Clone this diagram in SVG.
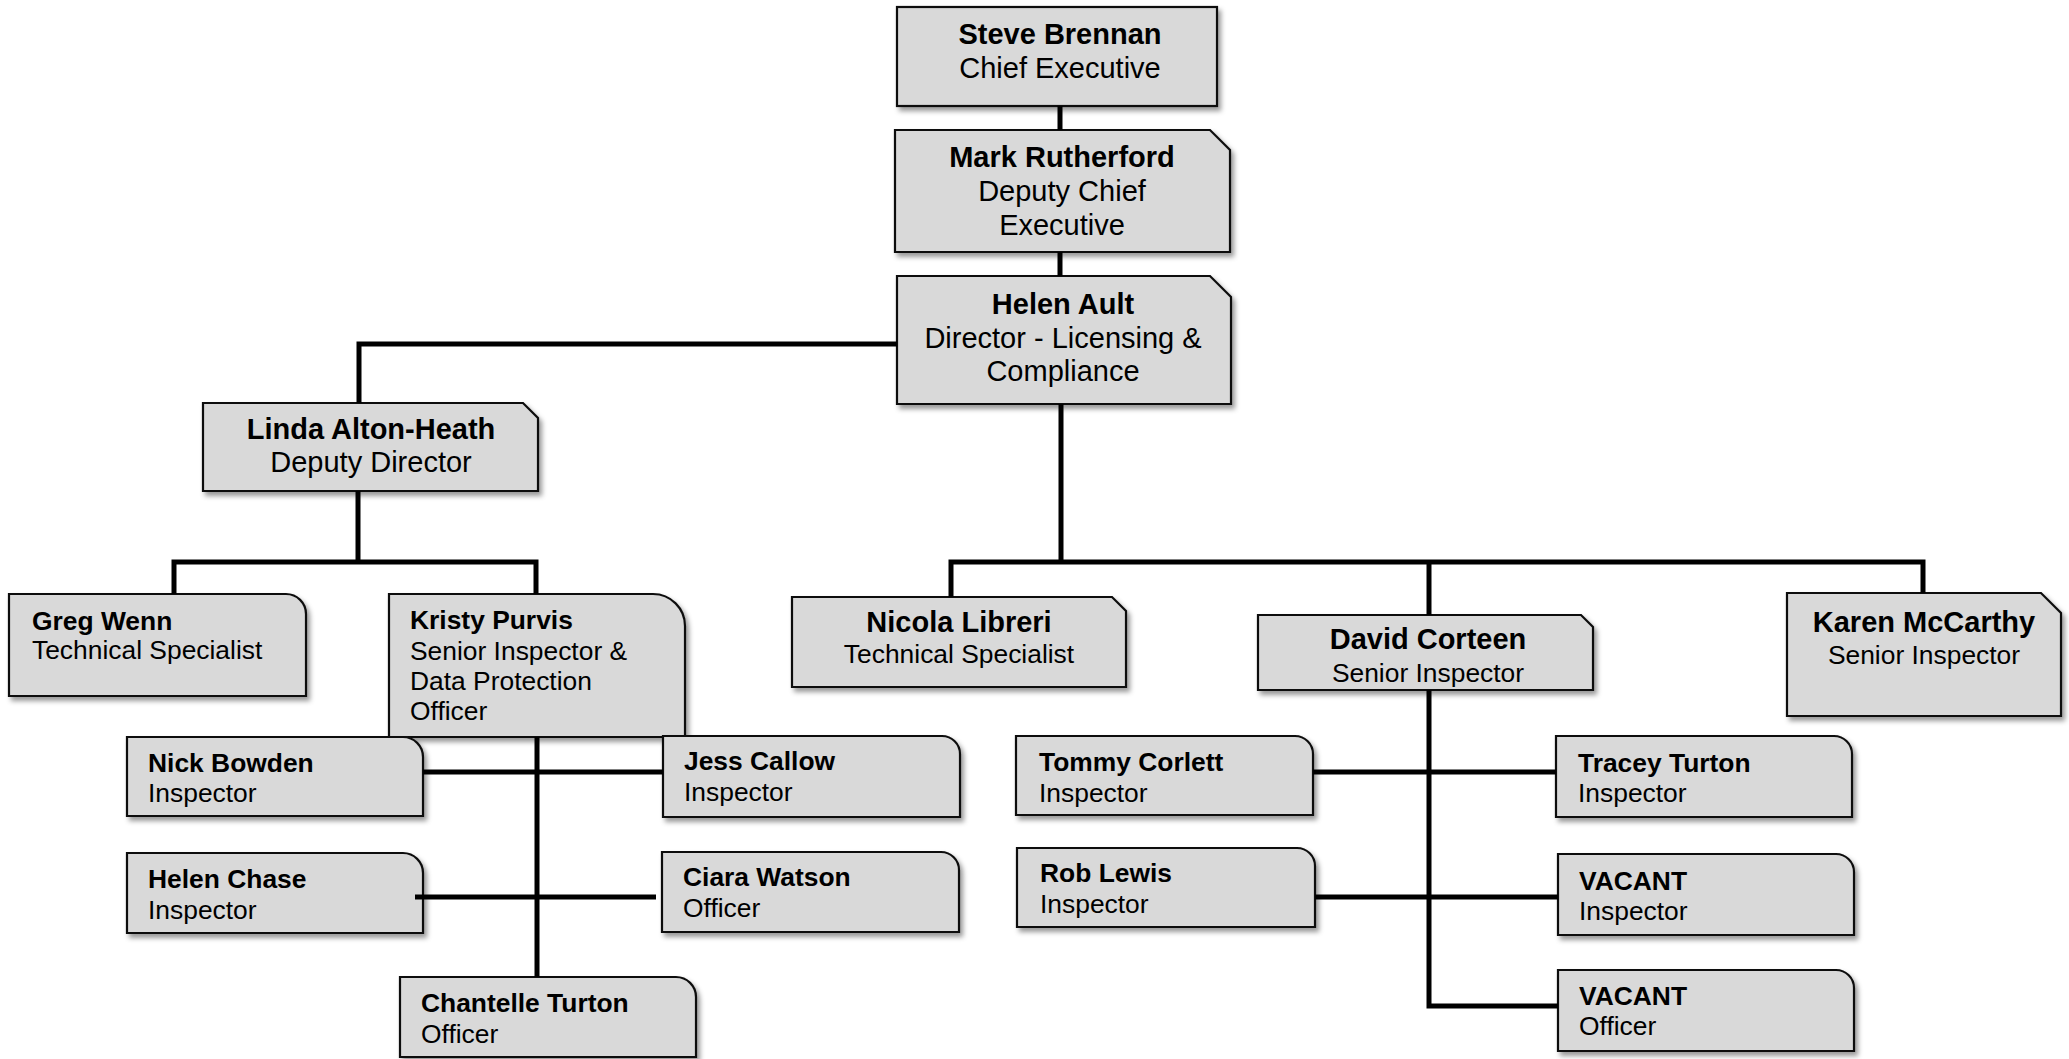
<svg xmlns="http://www.w3.org/2000/svg" width="2069" height="1059" viewBox="0 0 2069 1059">
<style>
.box{fill:#d9d9d9;stroke:#111;stroke-width:2.2;filter:url(#sh)}
text{font-family:"Liberation Sans",Arial,sans-serif;fill:#000}
.n{font-weight:bold;font-size:29px}
.t{font-size:29px}
.ns{font-weight:bold;font-size:26.4px}
.ts{font-size:26.4px}
.c{text-anchor:middle}
.ln{fill:none;stroke:#000;stroke-width:5;stroke-linecap:butt}
</style>
<defs>
<filter id="sh" x="-10%" y="-10%" width="130%" height="140%">
<feDropShadow dx="3" dy="4" stdDeviation="2.5" flood-color="#000" flood-opacity="0.4"/>
</filter>
</defs>
<rect width="2069" height="1059" fill="#fff"/>
<g id="steve-brennan">
<rect class="box" x="897" y="7" width="320" height="99"/>
<text class="n c" x="1060" y="44">Steve Brennan</text>
<text class="t c" x="1060" y="78">Chief Executive</text>
</g>
<g id="mark-rutherford">
<path class="box" d="M895,130 H1210 L1230,150 V252 H895 Z"/>
<text class="n c" x="1062" y="167">Mark Rutherford</text>
<text class="t c" x="1062" y="201">Deputy Chief</text>
<text class="t c" x="1062" y="235">Executive</text>
</g>
<g id="helen-ault">
<path class="box" d="M897,276 H1210 L1231,297 V404 H897 Z"/>
<text class="n c" x="1063" y="314">Helen Ault</text>
<text class="t c" x="1063" y="348">Director - Licensing &amp;</text>
<text class="t c" x="1063" y="381">Compliance</text>
</g>
<g id="linda-alton-heath">
<path class="box" d="M203,403 H523 L538,418 V491 H203 Z"/>
<text class="n c" x="371" y="439">Linda Alton-Heath</text>
<text class="t c" x="371" y="472">Deputy Director</text>
</g>
<g id="greg-wenn">
<path class="box" d="M9,594 H286 A20,20 0 0 1 306,614 V696 H9 Z"/>
<text class="ns" x="32" y="630">Greg Wenn</text>
<text class="ts" x="32" y="659">Technical Specialist</text>
</g>
<g id="kristy-purvis">
<path class="box" d="M389,594 H653 A32,32 0 0 1 685,626 V737 H389 Z"/>
<text class="ns" x="410" y="629">Kristy Purvis</text>
<text class="ts" x="410" y="660">Senior Inspector &amp;</text>
<text class="ts" x="410" y="690">Data Protection</text>
<text class="ts" x="410" y="720">Officer</text>
</g>
<g id="nick-bowden">
<path class="box" d="M127,737 H403 A20,20 0 0 1 423,757 V816 H127 Z"/>
<text class="ns" x="148" y="772">Nick Bowden</text>
<text class="ts" x="148" y="802">Inspector</text>
</g>
<g id="jess-callow">
<path class="box" d="M663,736 H942 A18,18 0 0 1 960,754 V817 H663 Z"/>
<text class="ns" x="684" y="770">Jess Callow</text>
<text class="ts" x="684" y="801">Inspector</text>
</g>
<g id="helen-chase">
<path class="box" d="M127,853 H403 A20,20 0 0 1 423,873 V933 H127 Z"/>
<text class="ns" x="148" y="888">Helen Chase</text>
<text class="ts" x="148" y="919">Inspector</text>
</g>
<g id="ciara-watson">
<path class="box" d="M662,852 H941 A18,18 0 0 1 959,870 V932 H662 Z"/>
<text class="ns" x="683" y="886">Ciara Watson</text>
<text class="ts" x="683" y="917">Officer</text>
</g>
<g id="chantelle-turton">
<path class="box" d="M400,977 H676 A20,20 0 0 1 696,997 V1057 H400 Z"/>
<text class="ns" x="421" y="1012">Chantelle Turton</text>
<text class="ts" x="421" y="1043">Officer</text>
</g>
<g id="nicola-libreri">
<path class="box" d="M792,597 H1112 L1126,611 V687 H792 Z"/>
<text class="n c" x="959" y="632">Nicola Libreri</text>
<text class="ts c" x="959" y="663">Technical Specialist</text>
</g>
<g id="david-corteen">
<path class="box" d="M1258,615 H1581 L1593,627 V690 H1258 Z"/>
<text class="n c" x="1428" y="649">David Corteen</text>
<text class="ts c" x="1428" y="682">Senior Inspector</text>
</g>
<g id="karen-mccarthy">
<path class="box" d="M1787,593 H2041 L2061,613 V716 H1787 Z"/>
<text class="n c" x="1924" y="632">Karen McCarthy</text>
<text class="ts c" x="1924" y="664">Senior Inspector</text>
</g>
<g id="tommy-corlett">
<path class="box" d="M1016,736 H1295 A18,18 0 0 1 1313,754 V815 H1016 Z"/>
<text class="ns" x="1039" y="771">Tommy Corlett</text>
<text class="ts" x="1039" y="802">Inspector</text>
</g>
<g id="rob-lewis">
<path class="box" d="M1017,848 H1297 A18,18 0 0 1 1315,866 V927 H1017 Z"/>
<text class="ns" x="1040" y="882">Rob Lewis</text>
<text class="ts" x="1040" y="913">Inspector</text>
</g>
<g id="tracey-turton">
<path class="box" d="M1556,736 H1834 A18,18 0 0 1 1852,754 V817 H1556 Z"/>
<text class="ns" x="1578" y="772">Tracey Turton</text>
<text class="ts" x="1578" y="802">Inspector</text>
</g>
<g id="vacant-inspector">
<path class="box" d="M1558,854 H1836 A18,18 0 0 1 1854,872 V935 H1558 Z"/>
<text class="ns" x="1579" y="890">VACANT</text>
<text class="ts" x="1579" y="920">Inspector</text>
</g>
<g id="vacant-officer">
<path class="box" d="M1558,970 H1836 A18,18 0 0 1 1854,988 V1051 H1558 Z"/>
<text class="ns" x="1579" y="1005">VACANT</text>
<text class="ts" x="1579" y="1035">Officer</text>
</g>
<g id="connectors">
<path class="ln" d="M1060,106 V130"/>
<path class="ln" d="M1060,252 V276"/>
<path class="ln" d="M897,344 H359 V403"/>
<path class="ln" d="M1061,404 V562"/>
<path class="ln" d="M951,597 V562 H1923 V593"/>
<path class="ln" d="M1429,562 V615"/>
<path class="ln" d="M358,491 V562"/>
<path class="ln" d="M174,594 V562 H536 V594"/>
<path class="ln" d="M537,737 V977"/>
<path class="ln" d="M423,772 H663"/>
<path class="ln" d="M415,897 H656"/>
<path class="ln" d="M1429,690 V1006 H1558"/>
<path class="ln" d="M1313,772 H1556"/>
<path class="ln" d="M1315,897 H1558"/>
</g>
</svg>
